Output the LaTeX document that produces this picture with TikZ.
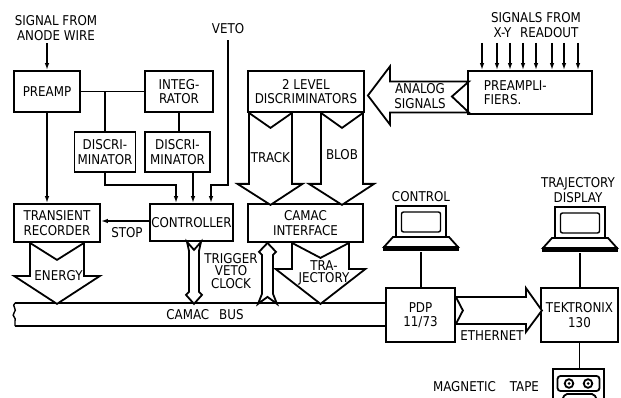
\documentclass[tikz,border=0pt]{standalone}
\usepackage{fontspec}
\setmainfont[FakeStretch=0.88]{DejaVu Sans}
\usetikzlibrary{arrows.meta}
\newcommand\figfont{\fontsize{13.5}{14.5}\selectfont}
\newcommand\figfonttight{\fontsize{13.5}{12.8}\selectfont}
\begin{document}
\begin{tikzpicture}[x=1pt,y=-1pt,line width=1.8pt,
  box/.style={draw,inner sep=0pt,align=center,font=\figfont},
  lbl/.style={inner sep=0pt,align=center,font=\figfont},
  arr/.style={-{Latex[length=7pt,width=4.5pt]}},
  fat/.style={draw,fill=white,line join=miter},
  computer/.pic={
    \draw (-25,-46) rectangle (25,-15);
    \draw[rounded corners=2pt,line width=1.4pt] (-19.5,-40) rectangle (19.5,-20);
    \draw (-28,-15) -- (28,-15) -- (37,-5) -- (-37,-5) -- cycle;
    \draw[fill=black] (-37,-5) rectangle (37,-1.5);
  }]
\useasboundingbox (0,0) rectangle (621,398);

% ---- boxes
\node[box,minimum width=66pt,minimum height=41pt] (preamp) at (47,91.5) {PREAMP};
\node[box,minimum width=68pt,minimum height=41pt] (integ) at (179,91.5) {INTEG-\\RATOR};
\node[box,minimum width=61pt,minimum height=40pt] (disc1) at (105,152) {DISCRI-\\MINATOR};
\node[box,minimum width=65pt,minimum height=40pt] (disc2) at (177.5,152) {DISCRI-\\MINATOR};
\node[box,minimum width=86pt,minimum height=38pt] (trans) at (57,223) {TRANSIENT\\RECORDER};
\node[box,minimum width=83pt,minimum height=37pt] (ctrl) at (191.5,222.5) {CONTROLLER};
\node[box,minimum width=116pt,minimum height=41pt] (lvl) at (306,91.5) {2 LEVEL\\DISCRIMINATORS};
\node[box,minimum width=115pt,minimum height=38pt] (cif) at (305.5,223) {CAMAC\\INTERFACE};
\node[box,minimum width=124pt,minimum height=43pt] (pre2) at (530,92.5) {};
\node[lbl,align=left,anchor=west] (pre2t) at (483,92.5) {PREAMPLI-\\FIERS.};
\node[box,minimum width=69pt,minimum height=54pt] (pdp) at (420.5,315) {PDP\\11/73};
\node[box,minimum width=77pt,minimum height=54pt] (tek) at (579.5,315) {TEKTRONIX\\130};

% ---- labels
\node[lbl] (sig) at (56,28) {SIGNAL FROM\\ANODE WIRE};
\node[lbl] (veto) at (228,29) {VETO};
\node[lbl] (xy) at (536,25) {SIGNALS FROM\\X-Y\hspace{5pt} READOUT};
\node[lbl] (stop) at (127,233) {STOP};
\node[lbl,font=\figfonttight] (trig) at (231,271) {TRIGGER\\VETO\\CLOCK};
\node[lbl] (ctltxt) at (421,197) {CONTROL};
\node[lbl] (disptxt) at (578,190) {TRAJECTORY\\DISPLAY};
\node[lbl] (eth) at (492,336) {ETHERNET};
\node[lbl] (magt) at (486,387) {MAGNETIC\hspace{14pt}TAPE};

% ---- thin connectors
\draw[arr] ([yshift=-2pt]sig.south -| preamp.north) -- (preamp.north);
\draw (preamp.east) -- (integ.west);
\coordinate (br1) at (105,91.5);
\draw (br1) -- (br1 |- disc1.north);
\draw (integ.south) -- (integ.south |- disc2.north);
\draw[arr] (disc1.south) -- (disc1.south |- 0,185) -| ([xshift=-15.5pt]ctrl.north);
\draw[arr] ([xshift=15.5pt]disc2.south) -- ([xshift=1.5pt]ctrl.north);
\draw[arr] ([yshift=-5pt]veto.south) -- (228,185) -| ([xshift=19.5pt]ctrl.north);
\draw[arr] (preamp.south) -- (preamp.south |- trans.north);
\draw[arr] (ctrl.west |- 0,221) -- (trans.east |- 0,221);
\foreach \x in {482,497,510,523,536,552,564,578}
  \draw[arr] (\x,43) -- (\x,0 |- pre2.north);

% ---- camac bus
\coordinate (busTL) at (15,303);
\coordinate (busBL) at (15,326);
\draw (busTL) -- (busTL -| pdp.west);
\draw (busBL) -- (busBL -| pdp.west);
\draw[line width=1.4pt] (busTL) .. controls (11,306) and (18,309) .. (14,313)
  .. controls (11,316) and (17,318) .. (15,321) -- (busBL);
\node[lbl] (bus) at (205,315) {CAMAC\hspace{10pt}BUS};

% ---- fat arrows
\draw[fat,shift={(trans.south)}] (-27,0) -- (0,17) -- (27,0) -- (27,33) -- (43,33)
  -- (0,61) -- (-43,33) -- (-27,33) -- cycle;
\node[lbl] (energy) at (58.5,275.5) {ENERGY};
\draw[fat,shift={([xshift=-35.5pt]lvl.south)}] (-21.5,0) -- (0,15) -- (21.5,0) -- (21.5,71)
  -- (32,71) -- (0,92) -- (-33,71) -- (-21.5,71) -- cycle;
\node[lbl] (track) at (270.5,157.5) {TRACK};
\draw[fat,shift={([xshift=36pt]lvl.south)}] (-21,0) -- (0,15) -- (21,0) -- (21,71)
  -- (32,71) -- (0,92) -- (-33,71) -- (-21,71) -- cycle;
\node[lbl] (blob) at (342,155) {BLOB};
\draw[fat,shift={([xshift=15pt]cif.south)}] (-28.5,0) -- (0,15) -- (28.5,0) -- (28.5,26)
  -- (45,26) -- (0,61) -- (-45,26) -- (-28.5,26) -- cycle;
\node[lbl,font=\figfonttight] (traj) at (324,273) {TRA-\\JECTORY};
\draw[fat,shift={([xshift=2.5pt]ctrl.south)}] (-7,0) -- (0,8) -- (7,0) -- (5,9) -- (5,50)
  -- (8,53) -- (0,62) -- (-8,53) -- (-5,50) -- (-5,9) -- cycle;
\draw[fat,shift={([xshift=-38pt]cif.south)}] (0,0) -- (8.5,9) -- (5.5,12) -- (5.5,51)
  -- (9.5,61) -- (0,54) -- (-9.5,61) -- (-5.5,51) -- (-5.5,12) -- (-8.5,9) -- cycle;
\draw[fat,shift={([xshift=3pt,yshift=-4pt]lvl.east)}] (0,0) -- (22,-29) -- (22,-14)
  -- (101,-14) -- (84,1) -- (101,17) -- (22,17) -- (22,29) -- cycle;
\node[lbl] (analog) at (420,96) {ANALOG\\SIGNALS};
\draw[fat,shift={(pdp.east)}] (0,-18) -- (70,-18) -- (70,-27) -- (86,-4.5) -- (70,17)
  -- (70,9) -- (0,9) -- (7,-4.5) -- cycle;

% ---- computers
\coordinate (ctlbase) at (421,252);
\pic at (ctlbase) {computer};
\draw (ctlbase) -- (ctlbase |- pdp.north);
\coordinate (dispbase) at (580,253);
\pic at (dispbase) {computer};
\draw (dispbase) -- (dispbase |- tek.north);

% ---- magnetic tape
\coordinate (tapetop) at (579.5,369);
\draw (tek.south) -- (tapetop);
\draw (553,400) -- (553,369) -- (604,369) -- (604,400);
\draw[rounded corners=3pt] (557.5,376) rectangle (599.5,391);
\draw (569,383.5) circle (4.3pt);
\draw (588,383.5) circle (4.3pt);
\fill (569,383.5) circle (1.5pt);
\fill (588,383.5) circle (1.5pt);
\draw[rounded corners=2pt] (562,400) -- (565,394) -- (594,394) -- (597,400);
\end{tikzpicture}
\end{document}
